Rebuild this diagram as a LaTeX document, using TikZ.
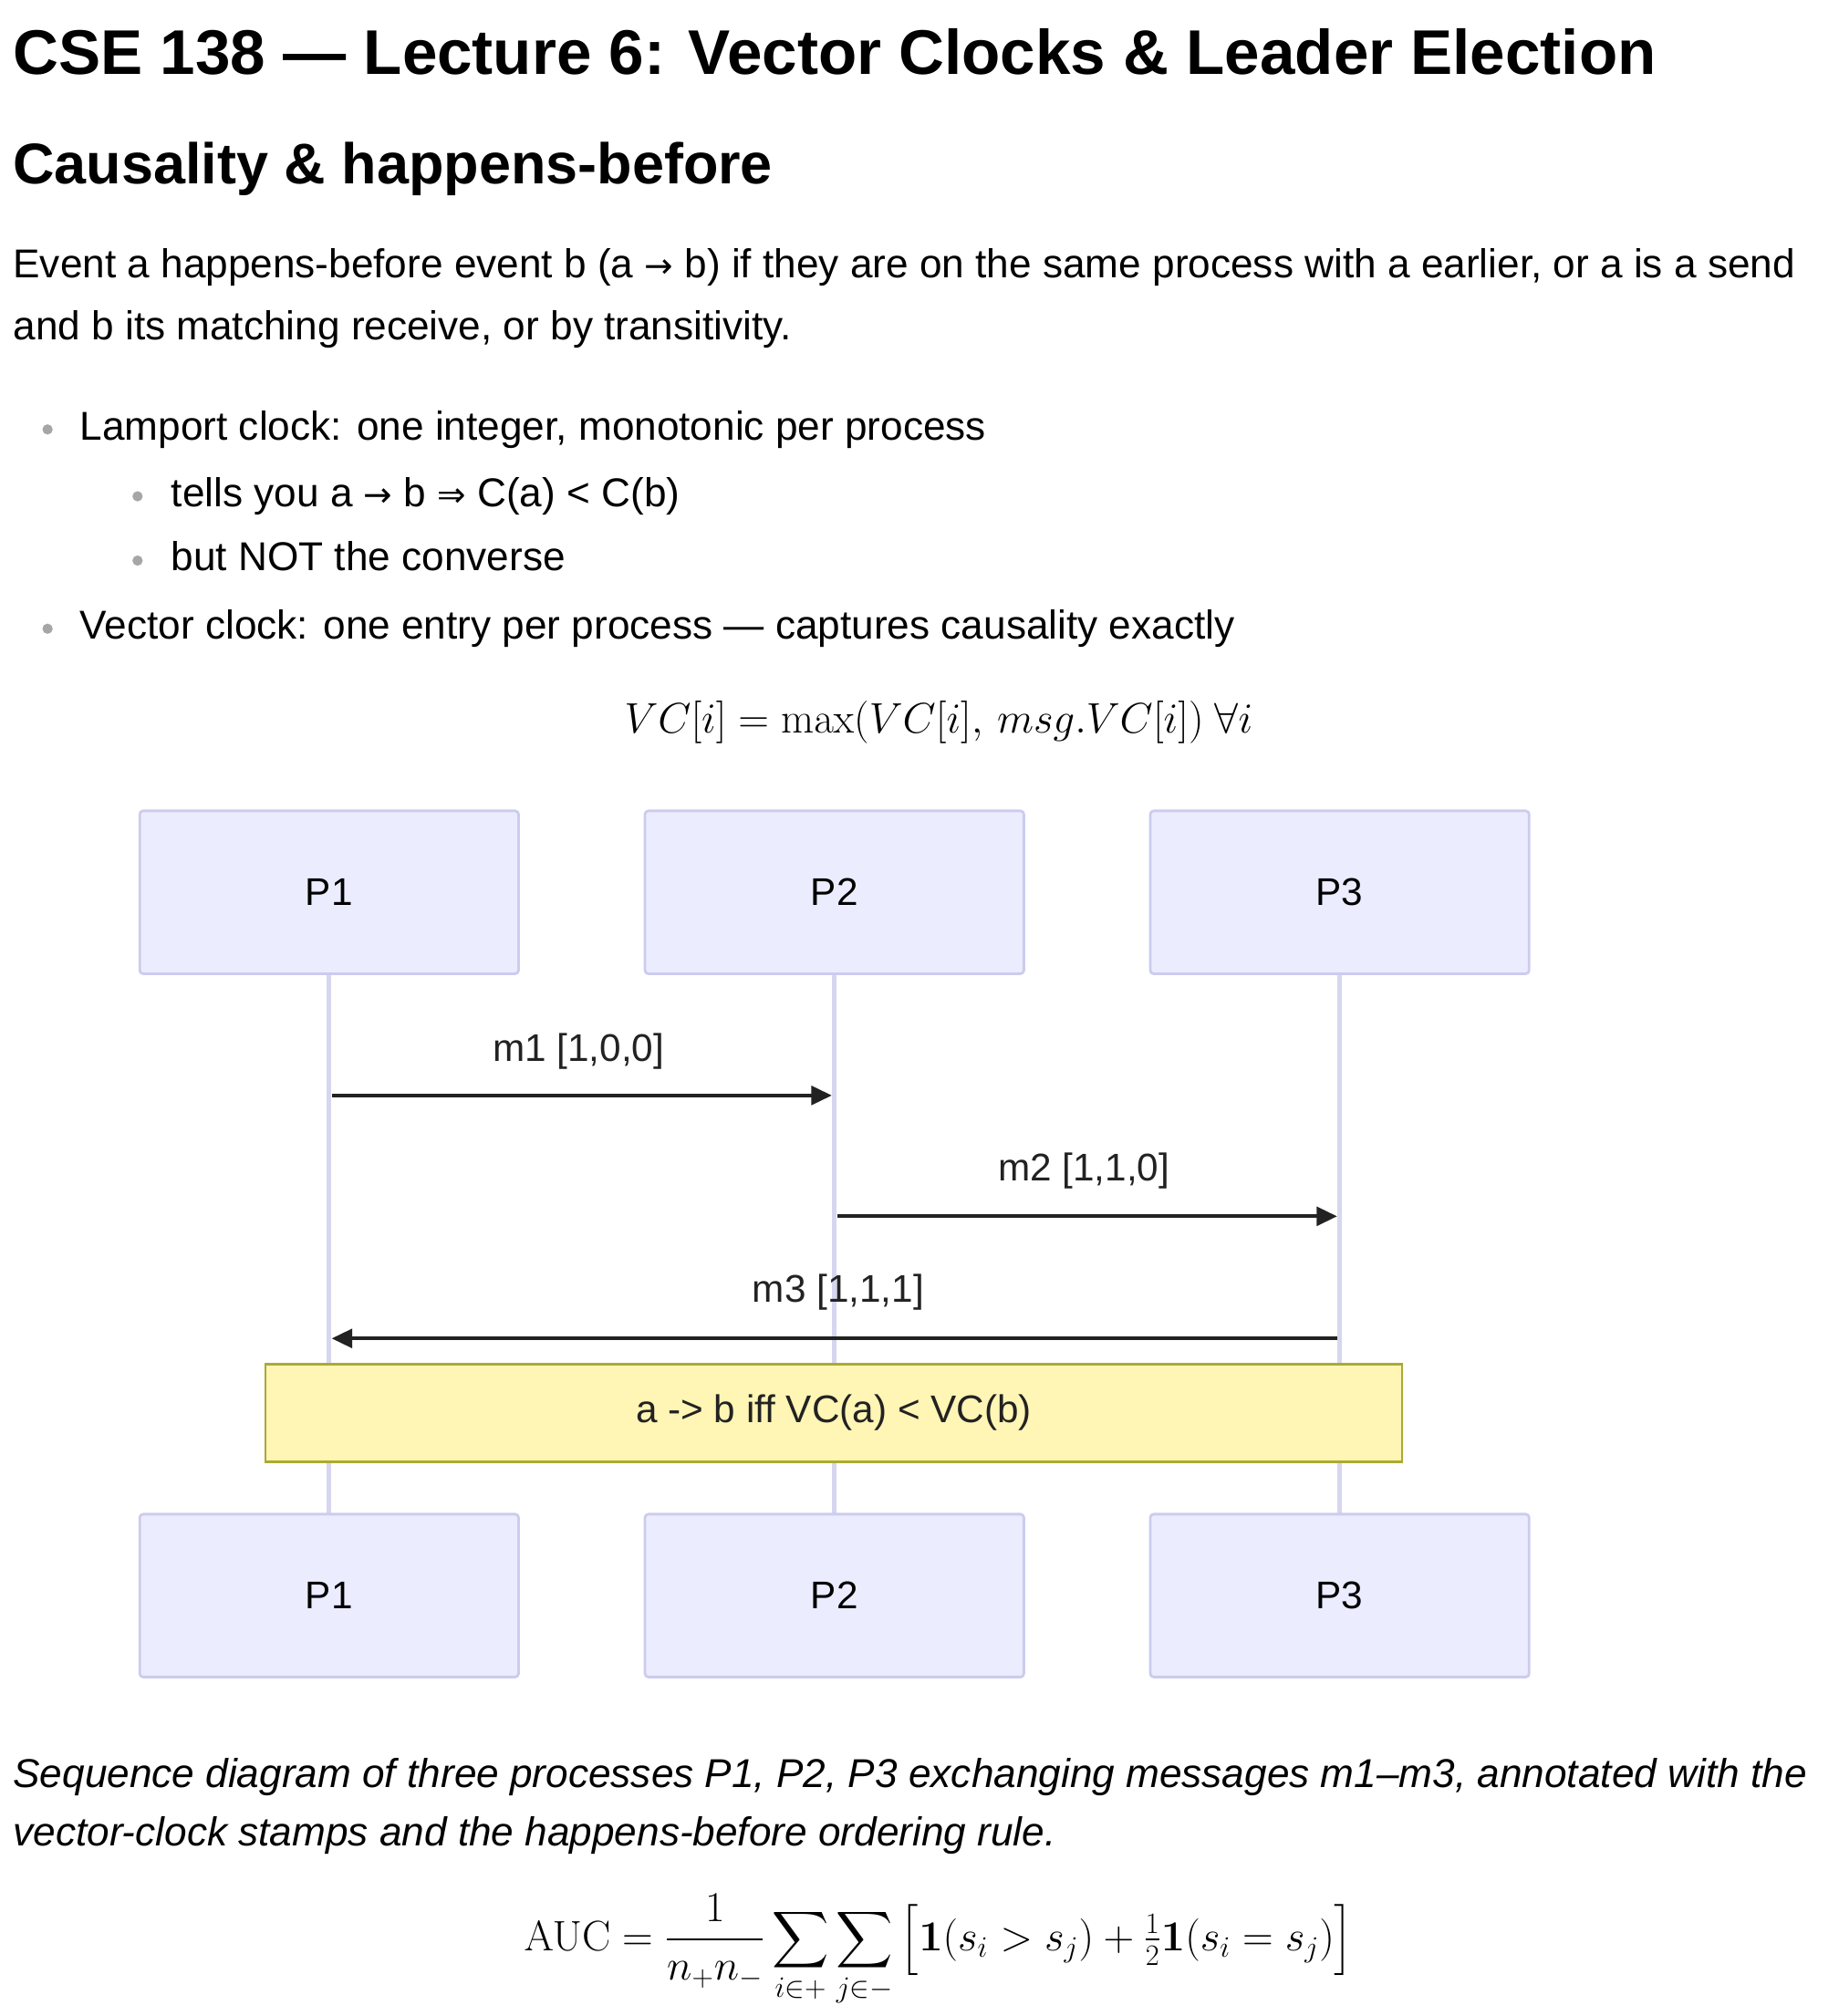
\documentclass[tikz,border=0pt]{standalone}
\usepackage{amsmath,amssymb}
\usepackage[no-math]{fontspec}
\setmainfont{Liberation Sans}
\newfontfamily\djv{DejaVu Sans}
\usetikzlibrary{arrows.meta}
\definecolor{actfill}{HTML}{ECECFF}
\definecolor{actdraw}{HTML}{CCCCEE}
\definecolor{life}{HTML}{D6D6F0}
\definecolor{notefill}{HTML}{FFF5B5}
\definecolor{notedraw}{HTML}{AAAA33}
\definecolor{txt}{HTML}{222222}
\newcommand{\rarr}{{\djv\fontsize{20}{24}\selectfont →}}
\begin{document}
\begin{tikzpicture}[x=0.75pt,y=-0.75pt,
  actor/.style={draw=actdraw,fill=actfill,line width=1.5pt,rounded corners=2pt,minimum width=221pt,minimum height=95pt,font=\fontsize{22.5}{26}\selectfont,text=black},
  msg/.style={draw=txt,line width=2pt,-{Triangle[length=12pt,width=11pt]}},
  lbl/.style={font=\fontsize{22.5}{26}\selectfont,text=txt},
  body/.style={anchor=base west,font=\fontsize{23.5}{27}\selectfont,text=black,inner sep=0},
  dot/.style={circle,fill=gray!70,inner sep=0,minimum size=6pt}]
\useasboundingbox (0,0) rectangle (1430,1568);
\node[anchor=base west,inner sep=0,font=\fontsize{36.8}{44}\selectfont\bfseries] (title) at (10,58) {CSE 138 — Lecture 6: Vector Clocks \& Leader Election};
\node[anchor=base west,inner sep=0,font=\fontsize{33.5}{38}\selectfont\bfseries] (head) at (10,143) {Causality \& happens-before};
\node[body] (p1) at (10,216) {Event a happens-before event b (a \rarr\ b) if they are on the same process with a earlier, or a is a send};
\node[body] (p2) at (10,264) {and b its matching receive, or by transitivity.};
\node[dot] (d1) at (37,334) {};
\node[body] (b1) at (62,342) {Lamport clock: one integer, monotonic per process};
\node[dot] (d2) at (107,386) {};
\node[body] (b2) at (133,394) {tells you a \rarr\ b {\djv\fontsize{20}{24}\selectfont ⇒} C(a) < C(b)};
\node[dot] (d3) at (107,436) {};
\node[body] (b3) at (133,444) {but NOT the converse};
\node[dot] (d4) at (37,489) {};
\node[body] (b4) at (62,497) {Vector clock: one entry per process — captures causality exactly};
\node[anchor=base,inner sep=0,font=\fontsize{23}{26}\selectfont] (f1) at (730,570) {$VC[i] = \max(VC[i],\, msg.VC[i])\ \forall i$};
\foreach \n/\x in {A/256,B/649,C/1042}{
  \coordinate (\n t) at (\x,757); \coordinate (\n b) at (\x,1177);
  \draw[life,line width=2.5pt] (\n t) -- (\n b);}
\node[actor] (P1t) at (256,694) {P1};
\node[actor] (P2t) at (649,694) {P2};
\node[actor] (P3t) at (1042,694) {P3};
\node[actor] (P1b) at (256,1241) {P1};
\node[actor] (P2b) at (649,1241) {P2};
\node[actor] (P3b) at (1042,1241) {P3};
\coordinate (m1s) at (258,852); \coordinate (m1e) at (647,852);
\coordinate (m2s) at (651,946); \coordinate (m2e) at (1040,946);
\coordinate (m3s) at (1040,1041); \coordinate (m3e) at (258,1041);
\draw[msg] (m1s) -- (m1e);
\draw[msg] (m2s) -- (m2e);
\draw[msg] (m3s) -- (m3e);
\node[lbl] (l1) at (450,818) {m1 [1,0,0]};
\node[lbl] (l2) at (843,911) {m2 [1,1,0]};
\node[lbl] (l3) at (652,1005) {m3 [1,1,1]};
\node[draw=notedraw,fill=notefill,line width=1.2pt,minimum width=663pt,minimum height=57pt,font=\fontsize{22.5}{26}\selectfont,text=txt] (note) at (648.5,1099) {a -> b iff VC(a) < VC(b)};
\node[body,font=\fontsize{23.5}{27}\selectfont\itshape] (c1) at (10,1390) {Sequence diagram of three processes P1, P2, P3 exchanging messages m1–m3, annotated with the};
\node[body,font=\fontsize{23.5}{27}\selectfont\itshape] (c2) at (10,1436) {vector-clock stamps and the happens-before ordering rule.};
\node[inner sep=0,font=\fontsize{23}{26}\selectfont] (auc) at (730,1517) {$\mathrm{AUC}=\dfrac{1}{n_+n_-}\displaystyle\sum_{i\in+}\sum_{j\in-}\Big[\mathbf{1}(s_i>s_j)+\tfrac12\mathbf{1}(s_i=s_j)\Big]$};
\end{tikzpicture}
\end{document}
